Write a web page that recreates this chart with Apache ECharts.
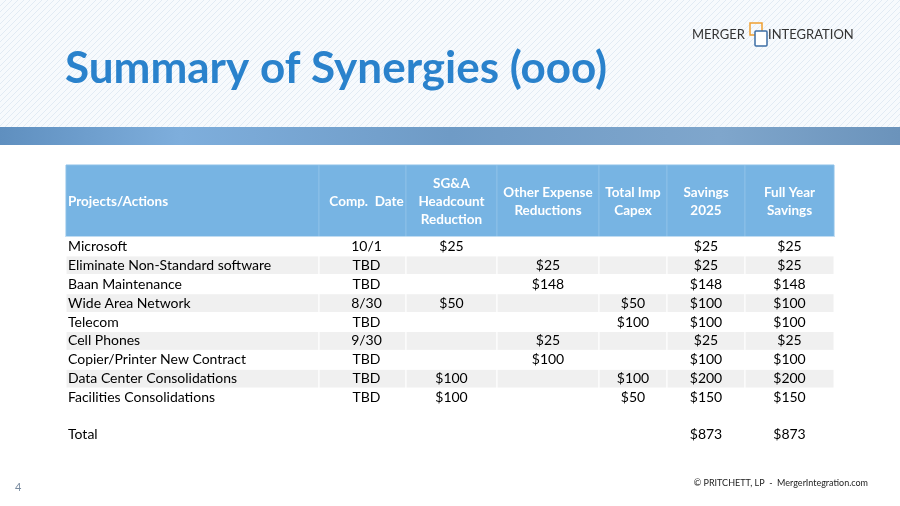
<!DOCTYPE html>
<html>
<head>
<meta charset="utf-8">
<script src="https://cdn.jsdelivr.net/npm/echarts@6/dist/echarts.min.js"></script>
<style>
  html, body { margin: 0; padding: 0; }
  #chart { width: 900px; height: 506px; }
</style>
</head>
<body>
<div id="chart"></div>
<script>
// table content
var headers = ['Projects/Actions', 'Comp.  Date', 'SG&A\nHeadcount\nReduction', 'Other Expense\nReductions', 'Total Imp\nCapex', 'Savings\n2025', 'Full Year\nSavings'];
var projects = ['Microsoft', 'Eliminate Non-Standard software', 'Baan Maintenance', 'Wide Area Network', 'Telecom', 'Cell Phones', 'Copier/Printer New Contract', 'Data Center Consolidations', 'Facilities Consolidations'];
var compDates = ['10/1', 'TBD', 'TBD', '8/30', 'TBD', '9/30', 'TBD', 'TBD', 'TBD'];
var sgaHeadcount = [25, null, null, 50, null, null, null, 100, 100];
var otherExpense = [null, 25, 148, null, null, 25, 100, null, null];
var impCapex = [null, null, null, 50, 100, null, null, 100, 50];
var savings2025 = [25, 25, 148, 100, 100, 25, 100, 200, 150];
var fullYearSavings = [25, 25, 148, 100, 100, 25, 100, 200, 150];
var totalLabel = 'Total';
var totals = [873, 873];

// layout
var colEdges = [66, 319, 406, 497, 599, 667, 745, 834];
var headTop = 165, headBottom = 237, rowH = 18.9, totalY = 434;

function money(v) { return v == null ? '' : '$' + v; }

var cells = [];
headers.forEach(function (h, c) {
  cells.push([colEdges[c], colEdges[c + 1], headTop, headBottom, h, 'head', c]);
});
projects.forEach(function (p, r) {
  var y0 = headBottom + r * rowH, y1 = y0 + rowH;
  var kind = r % 2 ? 'alt' : 'row';
  var vals = [p, compDates[r], money(sgaHeadcount[r]), money(otherExpense[r]), money(impCapex[r]), money(savings2025[r]), money(fullYearSavings[r])];
  vals.forEach(function (v, c) {
    cells.push([colEdges[c], colEdges[c + 1], y0, y1, v, kind, c]);
  });
});
cells.push([colEdges[0], colEdges[1], totalY - rowH / 2, totalY + rowH / 2, totalLabel, 'total', 0]);
cells.push([colEdges[5], colEdges[6], totalY - rowH / 2, totalY + rowH / 2, money(totals[0]), 'total', 5]);
cells.push([colEdges[6], colEdges[7], totalY - rowH / 2, totalY + rowH / 2, money(totals[1]), 'total', 6]);

var font = 'Lato, "Open Sans", sans-serif';

function renderCell(params, api) {
  var p0 = api.coord([api.value(0), api.value(2)]);
  var p1 = api.coord([api.value(1), api.value(3)]);
  var d = cells[params.dataIndex];
  var kind = d[5], col = d[6];
  var fill = kind === 'head' ? '#77b4e3' : kind === 'alt' ? '#f0f0f0' : kind === 'row' ? '#ffffff' : 'rgba(0,0,0,0)';
  var left = col === 0;
  var children = [{
    type: 'rect',
    shape: { x: p0[0], y: p0[1], width: p1[0] - p0[0], height: p1[1] - p0[1] },
    style: { fill: fill, stroke: kind === 'total' ? null : (kind === 'head' ? '#8cc0e8' : '#ffffff'), lineWidth: 1 }
  }];
  children.push({
    type: 'text',
    style: {
      x: left ? p0[0] + 2 : (p0[0] + p1[0]) / 2 + (col === 1 ? 4 : 0),
      y: (p0[1] + p1[1]) / 2 + (kind === 'head' ? 1 : 0),
      text: d[4],
      align: left ? 'left' : 'center',
      verticalAlign: 'middle',
      fill: kind === 'head' ? '#ffffff' : '#000000',
      font: (kind === 'head' ? 'bold 13.5px ' : '14px ') + font,
      lineHeight: 18
    }
  });
  return { type: 'group', children: children };
}

var myChart = echarts.init(document.getElementById('chart'));
var option = {
  animation: false,
  backgroundColor: {
    type: 'pattern',
    repeat: 'repeat',
    image: (function () {
      var cv = document.createElement('canvas');
      cv.width = 6; cv.height = 6;
      var ctx = cv.getContext('2d');
      ctx.fillStyle = '#f7fafd'; ctx.fillRect(0, 0, 6, 6);
      ctx.strokeStyle = '#e2ebf4'; ctx.lineWidth = 1;
      ctx.beginPath(); ctx.moveTo(0, 6); ctx.lineTo(6, 0); ctx.stroke();
      return cv;
    })()
  },
  grid: { left: 0, top: 0, width: 900, height: 506 },
  xAxis: { type: 'value', min: 0, max: 900, show: false },
  yAxis: { type: 'value', min: 0, max: 506, inverse: true, show: false },
  graphic: [
    { type: 'rect', shape: { x: 0, y: 145, width: 900, height: 361 }, style: { fill: '#ffffff' }, z: -1 },
    {
      type: 'rect', shape: { x: 0, y: 127, width: 900, height: 18 },
      style: { fill: new echarts.graphic.LinearGradient(0, 0, 1, 0, [
        { offset: 0, color: '#5f8fbf' }, { offset: 0.2, color: '#7eaedc' },
        { offset: 0.5, color: '#6f9bc6' }, { offset: 0.8, color: '#7fa6cc' }, { offset: 1, color: '#6b93bb' }]) }
    },
    { type: 'text', left: 65, top: 47, style: { text: 'Summary of Synergies (ooo)', font: 'bold 44px ' + font, fill: '#2a82cc' } },
    { type: 'text', left: 692, top: 28, style: { text: 'MERGER', font: '13px ' + font, fill: '#333333' } },
    { type: 'rect', shape: { x: 750, y: 23, width: 12, height: 12 }, style: { fill: 'none', stroke: '#f0a030', lineWidth: 1.5 } },
    { type: 'rect', shape: { x: 755, y: 31, width: 12, height: 15, r: 1 }, style: { fill: '#ffffff', stroke: '#3d6ea5', lineWidth: 1.5 } },
    { type: 'text', left: 768, top: 28, style: { text: 'INTEGRATION', font: '13px ' + font, fill: '#333333' } },
    { type: 'text', left: 15, top: 482, style: { text: '4', font: '11px ' + font, fill: '#7a8ca0' } },
    { type: 'text', right: 32, top: 479, style: { text: '© PRITCHETT, LP  -  MergerIntegration.com', font: '9px ' + font, fill: '#222222' } }
  ],
  series: [{
    type: 'custom',
    renderItem: renderCell,
    encode: { x: [0, 1], y: [2, 3] },
    data: cells.map(function (c) { return [c[0], c[1], c[2], c[3]]; })
  }]
};
myChart.setOption(option);
</script>
</body>
</html>
